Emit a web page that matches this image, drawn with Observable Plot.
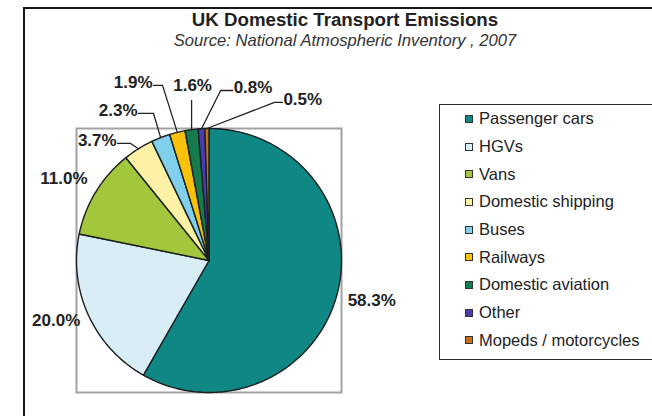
<!DOCTYPE html>
<html>
<head>
<meta charset="utf-8">
<script src="https://cdn.jsdelivr.net/npm/d3@7"></script>
<script src="https://cdn.jsdelivr.net/npm/@observablehq/plot@0.6"></script>
<style>
  html, body { margin: 0; padding: 0; background: #fff; }
  #wrap { position: relative; width: 652px; height: 416px; overflow: hidden;
          font-family: "Liberation Sans", Arial, sans-serif; color: #222; background: #fff; }
  #frame { position: absolute; left: 23px; top: 7px; width: 700px; height: 500px;
           border-left: 2.5px solid #161616; border-top: 2.5px solid #161616; }
  #title { position: absolute; left: 0; width: 690px; top: 8px; text-align: center;
           font-weight: bold; font-size: 18.7px; line-height: 23px; color: #222; }
  #subtitle { position: absolute; left: 0; width: 690px; top: 31px; text-align: center;
              font-style: italic; font-size: 16.6px; line-height: 20px; color: #333; }
  #chart { position: absolute; left: 0; top: 60px; }
  #legend { position: absolute; left: 439px; top: 104px; width: 260px; height: 254px;
            border: 1.5px solid #2a2a2a; background: #fff; }
  #legend .item { display: flex; align-items: center; height: 27.7px; padding-left: 25px;
                  font-size: 16.5px; color: #222; white-space: nowrap; }
  #legend .sw { display: inline-block; width: 6px; height: 6px; border: 1px solid #333;
                margin-right: 6px; }
</style>
</head>
<body>
<div id="wrap">
  <div id="frame"></div>
  <div id="title"></div>
  <div id="subtitle"></div>
  <div id="chart"></div>
  <div id="legend"></div>
</div>
<script>
// ---- data ----
const titleText = "UK Domestic Transport Emissions";
const subtitleText = "Source: National Atmospheric Inventory , 2007";
const categories = ["Passenger cars", "HGVs", "Vans", "Domestic shipping", "Buses",
                    "Railways", "Domestic aviation", "Other", "Mopeds / motorcycles"];
const shares = [58.3, 20.0, 11.0, 3.7, 2.3, 1.9, 1.6, 0.8, 0.5];
const labels = ["58.3%", "20.0%", "11.0%", "3.7%", "2.3%", "1.9%", "1.6%", "0.8%", "0.5%"];
const colors = ["#0f8784", "#d8edf5", "#a2c73c", "#fdf1a6", "#80cfec",
                "#f8c10c", "#157a4d", "#4a3db3", "#c2711f"];

// ---- label layout (placement only) ----
// radial: text on the slice's mid angle at radius r (nudge in degrees)
// leader: elbow at (angle, r), horizontal tail (px) toward the text
const labelLayout = [
  {mode: "radial", r: 1.265, nudge: -1},
  {mode: "radial", r: 1.24, nudge: 2.8},
  {mode: "radial", r: 1.26, nudge: -1.7},
  {mode: "leader", angle: 326.3, r: 1.066, tail: 13, side: "left"},
  {mode: "leader", angle: 339.4, r: 1.19, tail: 15, side: "left"},
  {mode: "leader", angle: 345.2, r: 1.372, tail: 9, side: "left"},
  {mode: "leader", up: 0.22, side: "up"},
  {mode: "leader", angle: 3.9, r: 1.291, tail: 12, side: "right"},
  {mode: "leader", angle: 22.4, r: 1.295, tail: 8, side: "right"}
];

document.getElementById("title").textContent = titleText;
document.getElementById("subtitle").textContent = subtitleText;

// ---- geometry derived from the data ----
const total = d3.sum(shares);
let acc = 0;
const slices = categories.map((name, i) => {
  const a0 = acc / total * 360;
  acc += shares[i];
  const a1 = acc / total * 360;
  return {name, i, a0, a1, mid: (a0 + a1) / 2, label: labels[i]};
});
const rad = d => d * Math.PI / 180;
const polar = (deg, r) => [r * Math.sin(rad(deg)), r * Math.cos(rad(deg))];

const slicePts = slices.flatMap(s => {
  const n = Math.max(2, Math.ceil((s.a1 - s.a0) / 1));
  const pts = [{name: s.name, x: 0, y: 0}];
  for (let k = 0; k <= n; k++) {
    const [x, y] = polar(s.a0 + (s.a1 - s.a0) * k / n, 1);
    pts.push({name: s.name, x, y});
  }
  pts.push({name: s.name, x: 0, y: 0});
  return pts;
});

const pxPerUnit = 132.5;
const leaderPts = [];
const textPts = [];
slices.forEach((s, i) => {
  const L = labelLayout[i];
  if (L.mode === "radial") {
    const [x, y] = polar(s.mid + (L.nudge || 0), L.r);
    textPts.push({x, y, label: s.label, side: "mid", dy: 0});
  } else {
    const edge = polar(s.mid, 1);
    if (L.side === "up") {
      const elbow = [edge[0], edge[1] + L.up];
      leaderPts.push({k: s.name, x: edge[0], y: edge[1]}, {k: s.name, x: elbow[0], y: elbow[1]});
      textPts.push({x: elbow[0], y: elbow[1], label: s.label, side: "up", dy: -15});
    } else {
      const elbow = polar(L.angle, L.r);
      const sign = L.side === "left" ? -1 : 1;
      const tx = elbow[0] + sign * L.tail / pxPerUnit;
      leaderPts.push({k: s.name, x: edge[0], y: edge[1]},
                     {k: s.name, x: elbow[0], y: elbow[1]},
                     {k: s.name, x: tx, y: elbow[1]});
      textPts.push({x: tx, y: elbow[1], label: s.label, side: L.side, dy: -2.5});
    }
  }
});

const textStyle = {fontSize: 17, fontWeight: "bold", fontFamily: "Liberation Sans, Arial, sans-serif", fill: "#222"};

const plot = Plot.plot({
  width: 436,
  height: 356,
  marginLeft: 76,
  marginRight: 95,
  marginTop: 68,
  marginBottom: 24,
  x: {domain: [-1, 1], axis: null},
  y: {domain: [-1, 1], axis: null},
  color: {domain: categories, range: colors},
  style: {background: "transparent", overflow: "visible"},
  marks: [
    Plot.frame({stroke: "#a2a2a2", strokeWidth: 2}),
    Plot.line(slicePts, {x: "x", y: "y", z: "name", fill: "name", stroke: "#1b1f1f",
                         strokeWidth: 1.4, strokeLinejoin: "round", curve: "linear"}),
    Plot.line(leaderPts, {x: "x", y: "y", z: "k", stroke: "#222", strokeWidth: 1.3, curve: "linear"}),
    Plot.text(textPts.filter(d => d.side === "mid"), {x: "x", y: "y", text: "label",
      textAnchor: "middle", ...textStyle}),
    Plot.text(textPts.filter(d => d.side === "up"), {x: "x", y: "y", text: "label",
      textAnchor: "middle", dx: 1, dy: -15, ...textStyle}),
    Plot.text(textPts.filter(d => d.side === "left"), {x: "x", y: "y", text: "label",
      textAnchor: "end", dx: -1, dy: -2.5, ...textStyle}),
    Plot.text(textPts.filter(d => d.side === "right"), {x: "x", y: "y", text: "label",
      textAnchor: "start", dx: 1, dy: -2.5, ...textStyle})
  ]
});
document.getElementById("chart").appendChild(plot);

// legend built from the same categories and the plot's colour scale
const colorScale = plot.scale("color");
const legend = document.getElementById("legend");
categories.forEach(c => {
  const row = document.createElement("div");
  row.className = "item";
  const sw = document.createElement("span");
  sw.className = "sw";
  sw.style.background = colorScale.range[colorScale.domain.indexOf(c)];
  row.appendChild(sw);
  row.appendChild(document.createTextNode(c));
  legend.appendChild(row);
});
</script>
</body>
</html>
